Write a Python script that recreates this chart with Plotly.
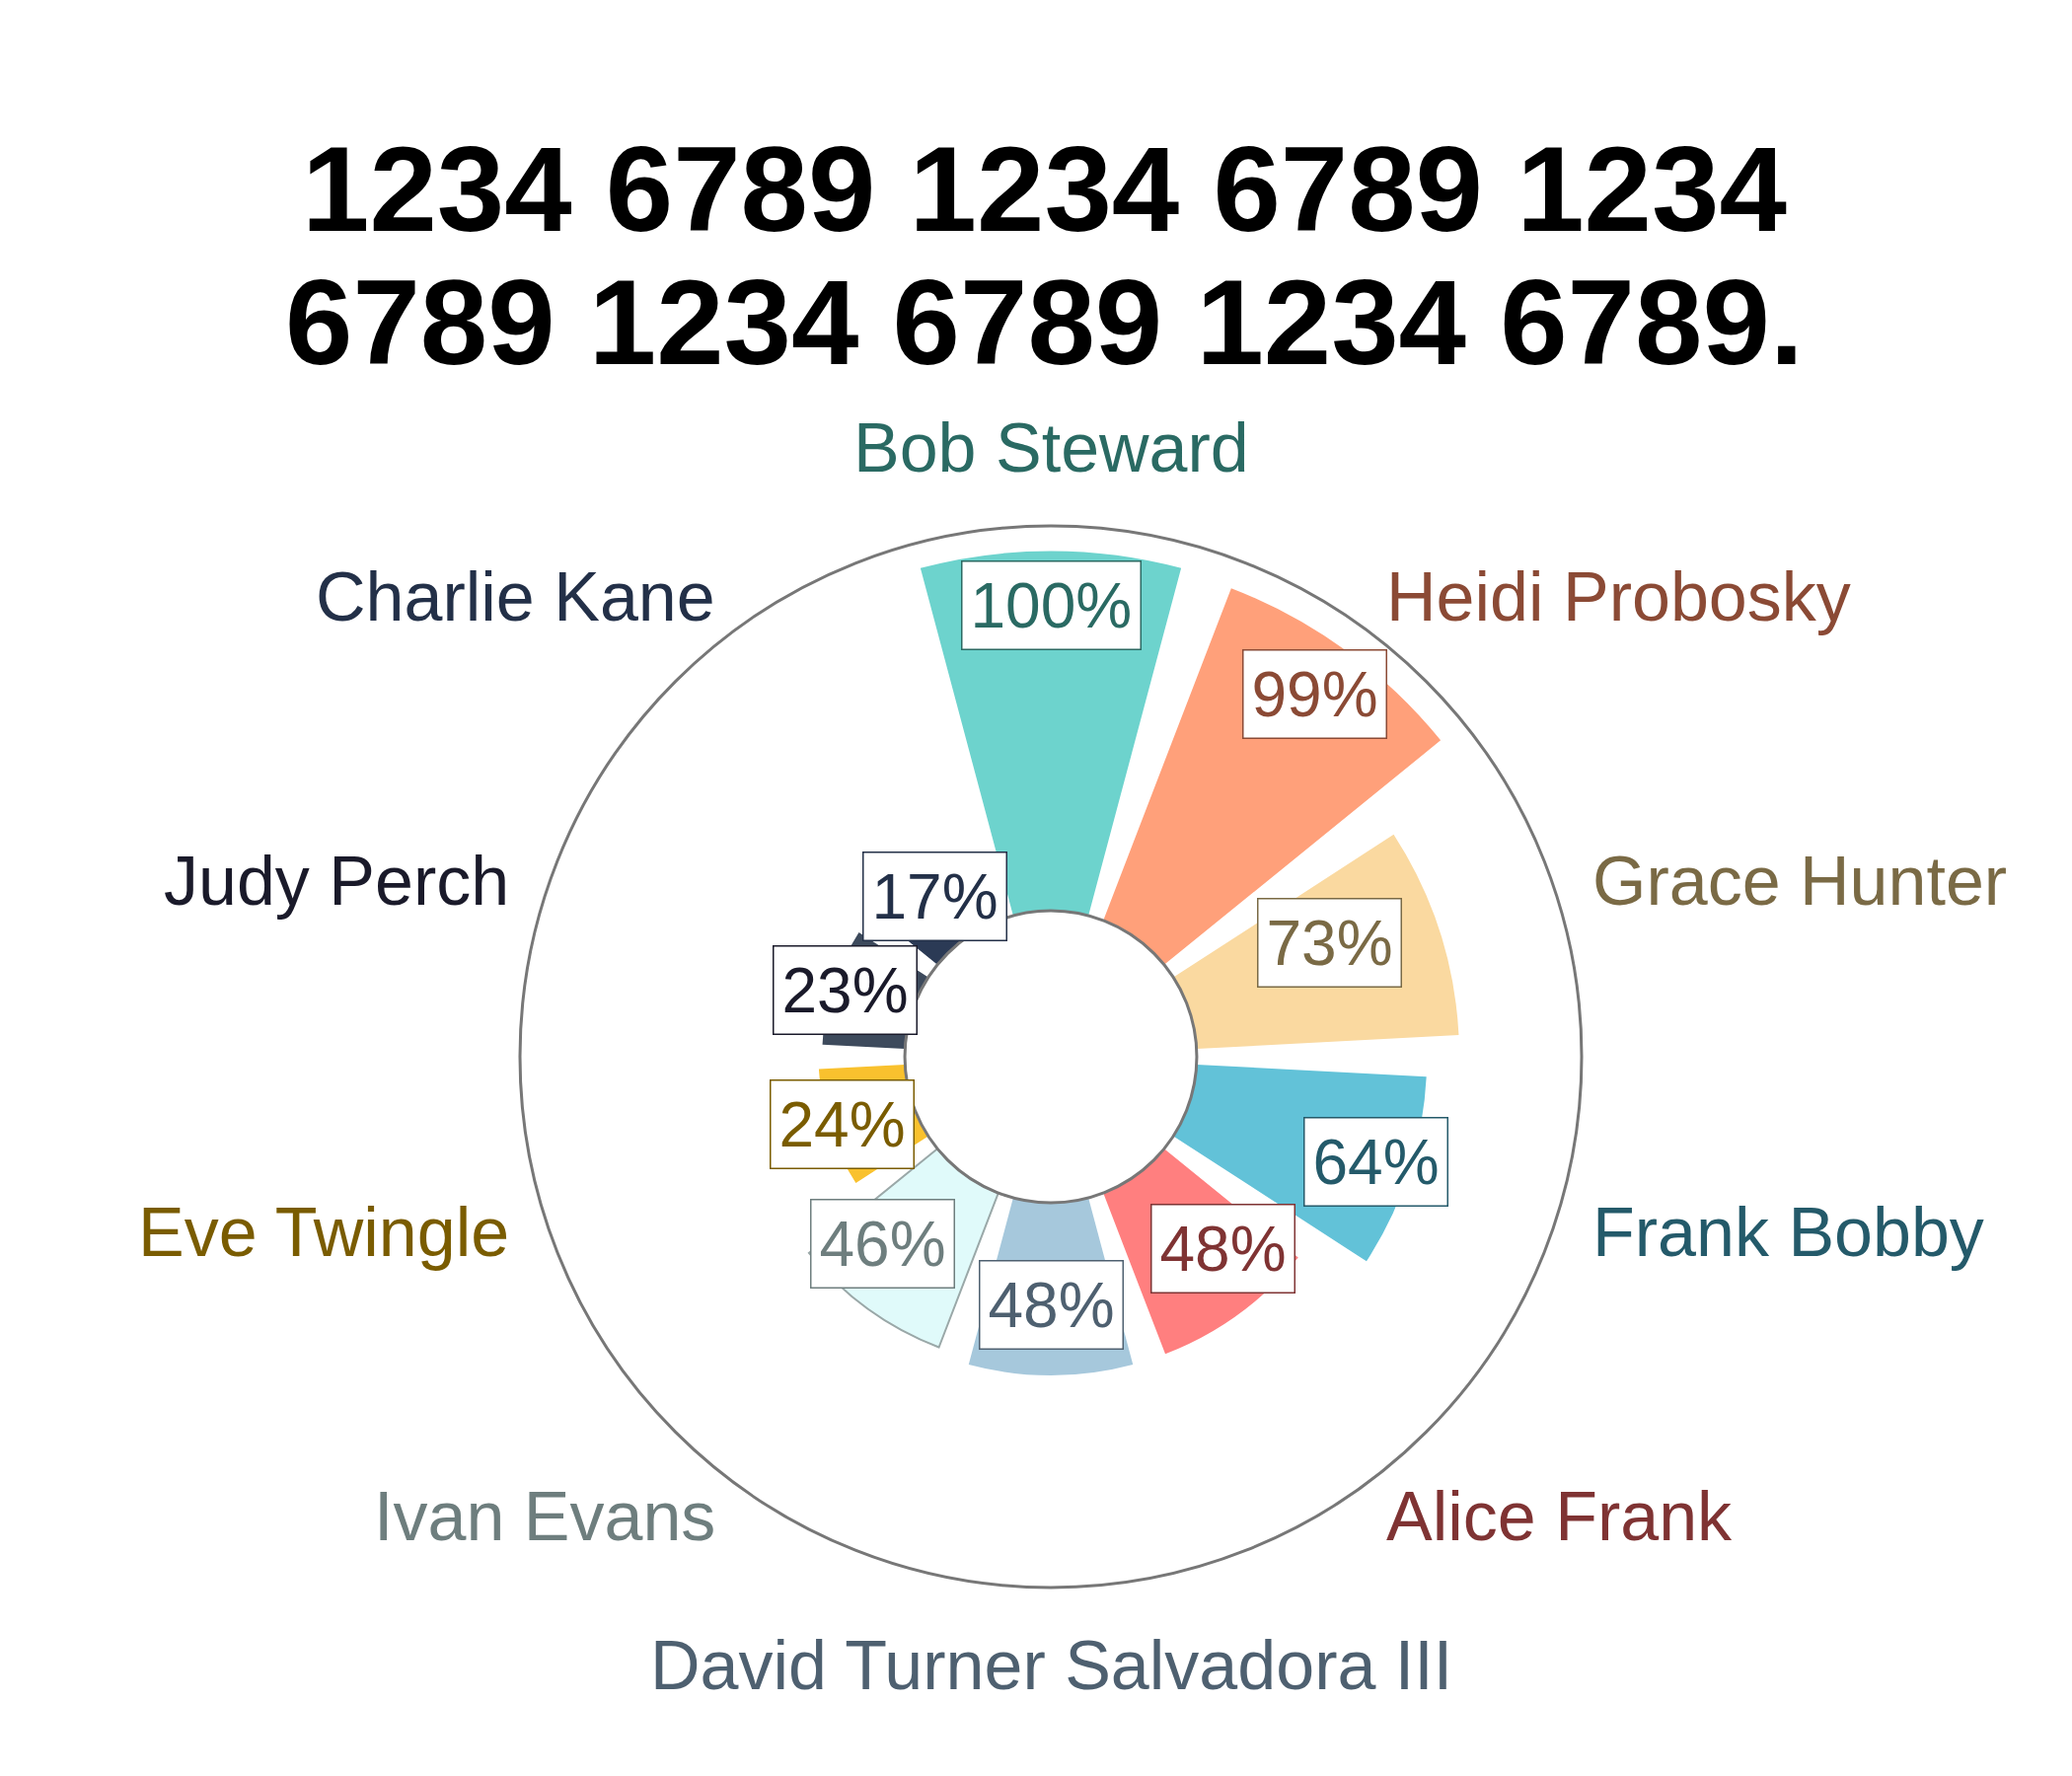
import math
import plotly.graph_objects as go

names = ["Bob Steward", "Heidi Probosky", "Grace Hunter", "Frank Bobby", "Alice Frank",
         "David Turner Salvadora III", "Ivan Evans", "Eve Twingle", "Judy Perch", "Charlie Kane"]
values = [100, 99, 73, 64, 48, 48, 46, 24, 23, 17]
bar_colors = ["#6dd3cd", "#ffa07a", "#fad9a0", "#62c2d8", "#ff7f7f",
              "#a6c8dc", "#e0fafa", "#f9c12e", "#3d4a5c", "#2b3a55"]
text_colors = ["#2a6a63", "#8b4a35", "#7a6a45", "#245a6a", "#7f3333",
               "#4e6070", "#6e7e7e", "#7a5c00", "#1a1a2a", "#233048"]
title_lines = ["1234 6789 1234 6789 1234", "6789 1234 6789 1234 6789."]

W, H = 2100, 1800
cx, cy, R = 1057, 1063, 538
hole = 0.275
rmax = 107
dom_x = [(cx - R) / W, (cx + R) / W]
dom_y = [(H - cy - R) / H, (H - cy + R) / H]

line_colors = ["white"] * len(names)
line_widths = [0] * len(names)
line_colors[6] = "#9aa8a8"
line_widths[6] = 2

fig = go.Figure(go.Barpolar(
    r=values, theta=names, width=[0.83] * len(names),
    marker=dict(color=bar_colors, line=dict(color=line_colors, width=line_widths)),
    hoverinfo="skip"))

n = len(names)
step = 360 / n
annotations = []
for i, (nm, v, tc) in enumerate(zip(names, values, text_colors)):
    ang = math.radians(90 - i * step)
    frac = hole + (1 - hole) * (v * 0.85) / rmax
    px = cx + R * frac * math.cos(ang)
    py = cy - R * frac * math.sin(ang)
    annotations.append(dict(x=px / W, y=1 - py / H, xref="paper", yref="paper",
                            text=f"{v}%", showarrow=False,
                            font=dict(size=64, color=tc, family="Liberation Sans"),
                            bgcolor="white", bordercolor=tc, borderwidth=1.5, borderpad=8))
    lx = cx + R * 1.07 * math.cos(ang)
    ly = cy - R * 1.07 * math.sin(ang)
    c = math.cos(ang)
    s = math.sin(ang)
    xa = "center" if abs(c) < 0.1 else ("left" if c > 0 else "right")
    ya = "bottom" if s > 0.9 else ("top" if s < -0.9 else "middle")
    annotations.append(dict(x=lx / W, y=1 - ly / H, xref="paper", yref="paper",
                            text=nm, showarrow=False, xanchor=xa, yanchor=ya,
                            font=dict(size=70, color=tc, family="Liberation Sans")))

for line, yy in zip(title_lines, [0.898, 0.823]):
    annotations.append(dict(x=0.5, y=yy, xref="paper", yref="paper", text=f"<b>{line}</b>",
                            showarrow=False, xanchor="center", yanchor="middle",
                            font=dict(size=123, family="Liberation Sans", color="black")))

fig.update_layout(
    width=W, height=H, margin=dict(l=0, r=0, t=0, b=0),
    paper_bgcolor="white", showlegend=False,
    polar=dict(
        domain=dict(x=dom_x, y=dom_y), hole=hole, bgcolor="white",
        radialaxis=dict(visible=False, range=[0, rmax]),
        angularaxis=dict(rotation=90, direction="clockwise", showticklabels=False,
                         ticks="", showgrid=False, showline=True, linecolor="#777777", linewidth=3),
    ),
    annotations=annotations,
)
fig.write_html("out.html")
